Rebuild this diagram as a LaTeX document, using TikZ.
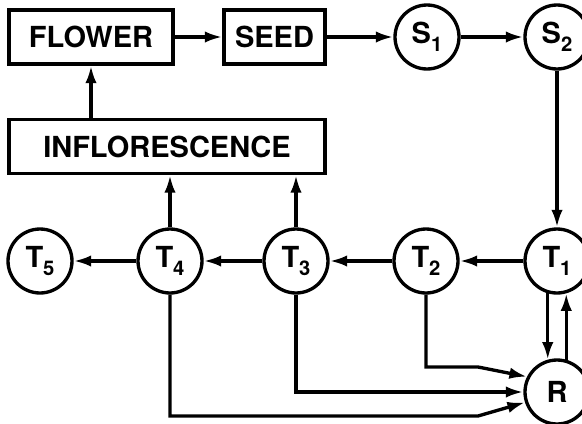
\documentclass[tikz,border=0pt]{standalone}
\usepackage{fontspec}
\setmainfont{TeX Gyre Heros}
\usetikzlibrary{positioning,calc,arrows.meta}

\newcommand{\poolsub}[1]{\raisebox{-0.5ex}{\fontsize{11.5}{12}\selectfont #1}}

\begin{document}
\begin{tikzpicture}[x=0.02cm,y=-0.02cm,
    every node/.style={font=\bfseries\fontsize{16.5}{19}\selectfont},
    organ/.style={draw,line width=1.9pt,minimum height=1.08cm,inner sep=0pt},
    pool/.style={draw,circle,line width=1.9pt,minimum size=1.28cm,inner sep=0pt},
    flow/.style={line width=1.9pt,-{Latex[length=10pt,width=6.5pt]}}]
    \useasboundingbox (0,0) rectangle (582,423);

    % the boxes for the organs
    \node[organ,minimum width=3.28cm] (flower) at (91,37) {FLOWER};
    \node[organ,minimum width=2.02cm] (seed) at (274.5,37) {SEED};
    \node[organ,minimum width=6.32cm] (infl) at (167,146.5) {INFLORESCENCE};

    % the pools
    \node[pool] (s1) at (427,37) {S\poolsub{1}};
    \node[pool] (s2) at (557,37) {S\poolsub{2}};
    \foreach \i/\x in {1/557, 2/426, 3/296, 4/170, 5/40}
      \node[pool] (t\i) at (\x,261) {T\poolsub{\i}};
    \node[pool] (r) at (557,392) {R};

    % bends of the lines into R
    \coordinate (k2) at (478,367);
    \coordinate (k4) at (478,416);

    % top row and down to the T row
    \draw[flow] (flower) -- (seed);
    \draw[flow] (seed) -- (s1);
    \draw[flow] (s1) -- (s2);
    \draw[flow] (s2) -- (t1);
    \foreach \a/\b in {1/2, 2/3, 3/4, 4/5}
      \draw[flow] (t\a) -- (t\b);

    % up to the inflorescence and the flower
    \draw[flow] (flower |- infl.north) -- (flower.south);
    \draw[flow] (t4) -- (t4 |- infl.south);
    \draw[flow] (t3) -- (t3 |- infl.south);

    % exchange with R
    \draw[flow] (t1.-106) -- (r.106);
    \draw[flow] (r.74) -- (t1.-74);
    \draw[flow] (t2) |- (k2) -- (r.153);
    \draw[flow] (t3) |- (r.west);
    \draw[flow] (t4) |- (k4) -- (r.198);

\end{tikzpicture}
\end{document}
